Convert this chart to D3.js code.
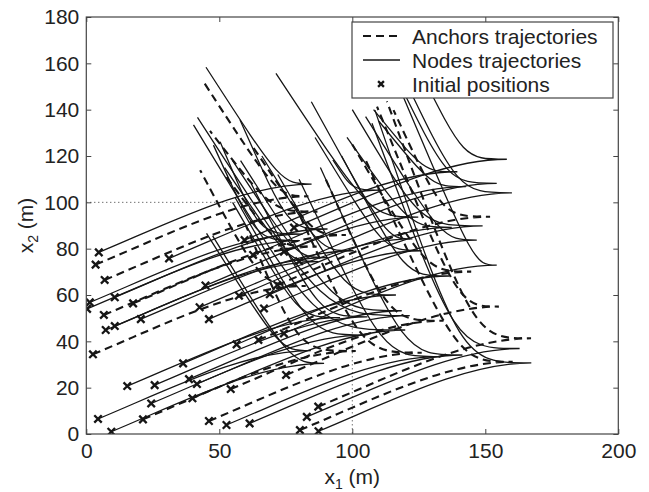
<!DOCTYPE html>
<html>
<head>
<meta charset="utf-8">
<script src="https://cdn.jsdelivr.net/npm/d3@7"></script>
<style>
  body { margin: 0; background: #fff; }
  svg { display: block; }
  text { font-family: "Liberation Sans", Arial, Helvetica, sans-serif; fill: #222; }
</style>
</head>
<body>
<svg id="chart" width="649" height="492"></svg>
<script>
// Axis ticks
const xTicks = [0, 50, 100, 150, 200];
const yTicks = [0, 20, 40, 60, 80, 100, 120, 140, 160, 180];

// Deployment square edge (m)
const regionEdge = 100;

// Nodes: initial position, turning point (cusp), knee x of the return leg, final position
const nodeStarts = [
  [4.7, 78.4], [44.8, 64.1], [78.1, 89.1], [74.3, 78.7], [80.0, 74.6], [69.0, 60.3],
  [66.8, 54.2], [74.3, 43.4], [41.6, 21.6], [39.9, 15.4], [4.4, 6.5], [9.4, 1.0],
  [82.9, 7.4], [87.3, 1.2], [42.6, 54.7], [46.1, 49.6], [1.3, 56.8], [0.3, 54.0],
  [10.7, 59.0], [10.7, 46.6], [7.3, 44.9], [20.5, 49.6], [31.1, 75.8], [15.4, 20.7],
  [25.7, 21.1], [36.4, 30.5], [38.6, 23.7], [24.4, 13.2], [52.7, 3.9], [61.4, 4.6],
  [56.5, 38.7], [62.7, 77.3], [59.5, 83.7], [57.4, 59.7]
];
const nodeCusps = [
  [84.7, 107.9], [124.8, 93.6], [158.1, 118.6], [154.3, 108.2], [160.0, 104.1], [149.0, 89.8],
  [146.8, 83.7], [154.3, 72.9], [121.6, 51.1], [119.9, 44.9], [84.4, 36.0], [89.4, 30.5],
  [162.9, 36.9], [167.3, 30.7], [122.6, 84.2], [126.1, 79.1], [81.3, 86.3], [80.3, 83.5],
  [90.7, 88.5], [90.7, 76.1], [87.3, 74.4], [100.5, 79.1], [111.1, 105.3], [95.4, 50.2],
  [105.7, 50.6], [116.4, 60.0], [118.6, 53.2], [104.4, 42.7], [132.7, 33.4], [141.4, 34.1],
  [136.5, 68.2], [142.7, 106.8], [139.5, 113.2], [137.4, 89.2]
];
const nodeKneeX = [
  73.4, 107, 142, 136, 140, 126, 134, 146, 90, 87, 73, 77,
  139, 141, 113, 112, 65, 64, 76, 79, 76, 88, 100, 80,
  88, 98, 94, 85, 112, 120, 120, 130, 127, 122
];
const nodeEnds = [
  [45.0, 158.3], [71.3, 155.7], [124, 160], [114, 160], [116, 162], [100, 140],
  [105, 137], [119, 146], [41.8, 136.7], [40.3, 133.4], [45.2, 86.6], [47.5, 85.5],
  [107.4, 134.1], [108.5, 139.8], [84.6, 143.4], [86, 128], [50.3, 126.2], [47.8, 124.7],
  [57.8, 135.5], [55, 118], [52, 115], [66, 120], [92.7, 118.3], [55, 100],
  [62, 108], [72, 112], [58, 118], [56, 102], [80, 110], [88, 115],
  [96, 120], [110, 135], [108, 140], [98, 128]
];

// Anchors: same layout as the nodes
const anchorStarts = [
  [3.5, 73.1], [6.9, 66.5], [2.5, 34.4], [6.6, 51.4], [17.6, 56.4], [21.3, 6.3],
  [46.1, 5.6], [54.3, 19.4], [71.8, 64.3], [75.1, 25.5], [80.3, 1.7], [87.2, 11.8],
  [64.7, 40.6]
];
const anchorCusps = [
  [83.5, 102.6], [86.9, 96.0], [82.5, 63.9], [86.6, 80.9], [97.6, 85.9], [101.3, 35.8],
  [126.1, 35.1], [134.3, 48.9], [151.8, 93.8], [155.1, 55.0], [160.3, 31.2], [167.2, 41.3],
  [144.7, 70.1]
];
const anchorKneeX = [72, 70, 66, 72, 85, 80, 104, 114, 134, 140, 140, 146, 128];
const anchorEnds = [
  [43.8, 152.5], [46.5, 130.8], [42.8, 113.9], [52, 112], [62, 125], [60, 90],
  [78, 100], [90, 110], [115.5, 139.8], [109.3, 141.3], [104.6, 119.3], [113, 143.6],
  [100, 125]
];

const legendItems = ["Anchors trajectories", "Nodes trajectories", "Initial positions"];

// ---- layout ----
const svg = d3.select("#chart");
const plot = { left: 86.3, right: 618.3, top: 17, bottom: 434 };
const x = d3.scaleLinear().domain([0, 200]).range([plot.left, plot.right]);
const y = d3.scaleLinear().domain([0, 180]).range([plot.bottom, plot.top]);
const ink = "#161616";
const axisInk = "#444";
const dash = "8,5";

svg.append("defs").append("clipPath").attr("id", "plotClip")
  .append("rect")
  .attr("x", plot.left).attr("y", plot.top)
  .attr("width", plot.right - plot.left).attr("height", plot.bottom - plot.top);

const g = svg.append("g").attr("clip-path", "url(#plotClip)");

// Deployment square (dotted)
g.append("path")
  .attr("d", d3.line()([[x(0), y(regionEdge)], [x(regionEdge), y(regionEdge)], [x(regionEdge), y(0)]]))
  .attr("fill", "none").attr("stroke", "#333").attr("stroke-width", 1)
  .attr("stroke-dasharray", "1,3");

// One trajectory: outgoing leg to the cusp, then the return leg bending up to the final spot
function trajectory(s, c, kx, e) {
  const p = d3.path();
  const dx = c[0] - s[0], dy = c[1] - s[1];
  p.moveTo(x(s[0]), y(s[1]));
  p.bezierCurveTo(
    x(s[0] + 0.34 * dx), y(s[1] + 0.44 * dy),
    x(s[0] + 0.69 * dx), y(c[1]),
    x(c[0]), y(c[1]));
  p.bezierCurveTo(x(kx), y(c[1]), x(kx), y(c[1]), x(e[0]), y(e[1]));
  return p.toString();
}

g.append("g").selectAll("path")
  .data(nodeStarts.map((s, i) => ({ s, c: nodeCusps[i], k: nodeKneeX[i], e: nodeEnds[i] })))
  .join("path")
  .attr("d", d => trajectory(d.s, d.c, d.k, d.e))
  .attr("fill", "none").attr("stroke", ink).attr("stroke-width", 1.3);

g.append("g").selectAll("path")
  .data(anchorStarts.map((s, i) => ({ s, c: anchorCusps[i], k: anchorKneeX[i], e: anchorEnds[i] })))
  .join("path")
  .attr("d", d => trajectory(d.s, d.c, d.k, d.e))
  .attr("fill", "none").attr("stroke", ink).attr("stroke-width", 2.1)
  .attr("stroke-dasharray", dash);

// Initial positions
const cross = d3.symbol().type(d3.symbolX).size(38);
g.append("g").selectAll("path")
  .data(nodeStarts.concat(anchorStarts))
  .join("path")
  .attr("transform", d => `translate(${x(d[0])},${y(d[1])})`)
  .attr("d", cross)
  .attr("fill", "none").attr("stroke", ink).attr("stroke-width", 2.3);

// ---- axes ----
const fontSize = 21;
const axB = svg.append("g").attr("transform", `translate(0,${plot.bottom})`)
  .call(d3.axisBottom(x).tickValues(xTicks).tickSizeInner(-5).tickSizeOuter(0).tickPadding(9));
const axL = svg.append("g").attr("transform", `translate(${plot.left},0)`)
  .call(d3.axisLeft(y).tickValues(yTicks).tickSizeInner(-5).tickSizeOuter(0).tickPadding(7));
const axT = svg.append("g").attr("transform", `translate(0,${plot.top})`)
  .call(d3.axisTop(x).tickValues(xTicks).tickSizeInner(-5).tickSizeOuter(0).tickFormat(""));
const axR = svg.append("g").attr("transform", `translate(${plot.right},0)`)
  .call(d3.axisRight(y).tickValues(yTicks).tickSizeInner(-5).tickSizeOuter(0).tickFormat(""));
[axB, axL, axT, axR].forEach(a => {
  a.select(".domain").remove();
  a.selectAll("line").attr("stroke", axisInk);
  a.selectAll("text").attr("font-size", fontSize).attr("fill", "#222")
    .attr("font-family", '"Liberation Sans", Arial, sans-serif');
});
axB.selectAll("text").attr("dy", "0.71em");

svg.append("rect")
  .attr("x", plot.left).attr("y", plot.top)
  .attr("width", plot.right - plot.left).attr("height", plot.bottom - plot.top)
  .attr("fill", "none").attr("stroke", axisInk).attr("stroke-width", 1.2);

// Axis titles with subscripts
const xt = svg.append("text").attr("x", x(100)).attr("y", 484)
  .attr("text-anchor", "middle").attr("font-size", fontSize);
xt.append("tspan").text("x");
xt.append("tspan").attr("font-size", 14).attr("dy", 5).text("1");
xt.append("tspan").attr("dy", -5).text(" (m)");

const yt = svg.append("text")
  .attr("transform", `translate(33,${(plot.top + plot.bottom) / 2}) rotate(-90)`)
  .attr("text-anchor", "middle").attr("font-size", fontSize);
yt.append("tspan").text("x");
yt.append("tspan").attr("font-size", 14).attr("dy", 5).text("2");
yt.append("tspan").attr("dy", -5).text(" (m)");

// ---- legend ----
const lg = svg.append("g");
lg.append("rect").attr("x", 352).attr("y", 22).attr("width", 261).attr("height", 76)
  .attr("fill", "#fff").attr("stroke", axisInk).attr("stroke-width", 1.2);
const rowY = [36, 60, 84];
lg.append("line").attr("x1", 363).attr("x2", 400).attr("y1", rowY[0]).attr("y2", rowY[0])
  .attr("stroke", ink).attr("stroke-width", 2.1).attr("stroke-dasharray", dash);
lg.append("line").attr("x1", 363).attr("x2", 400).attr("y1", rowY[1]).attr("y2", rowY[1])
  .attr("stroke", ink).attr("stroke-width", 1.3);
lg.append("path").attr("transform", `translate(381,${rowY[2]})`)
  .attr("d", d3.symbol().type(d3.symbolX).size(24))
  .attr("fill", "none").attr("stroke", ink).attr("stroke-width", 2.3);
lg.selectAll("text.item").data(legendItems).join("text")
  .attr("class", "item")
  .attr("x", 412).attr("y", (d, i) => rowY[i]).attr("dy", "0.36em")
  .attr("font-size", fontSize).text(d => d);
</script>
</body>
</html>
